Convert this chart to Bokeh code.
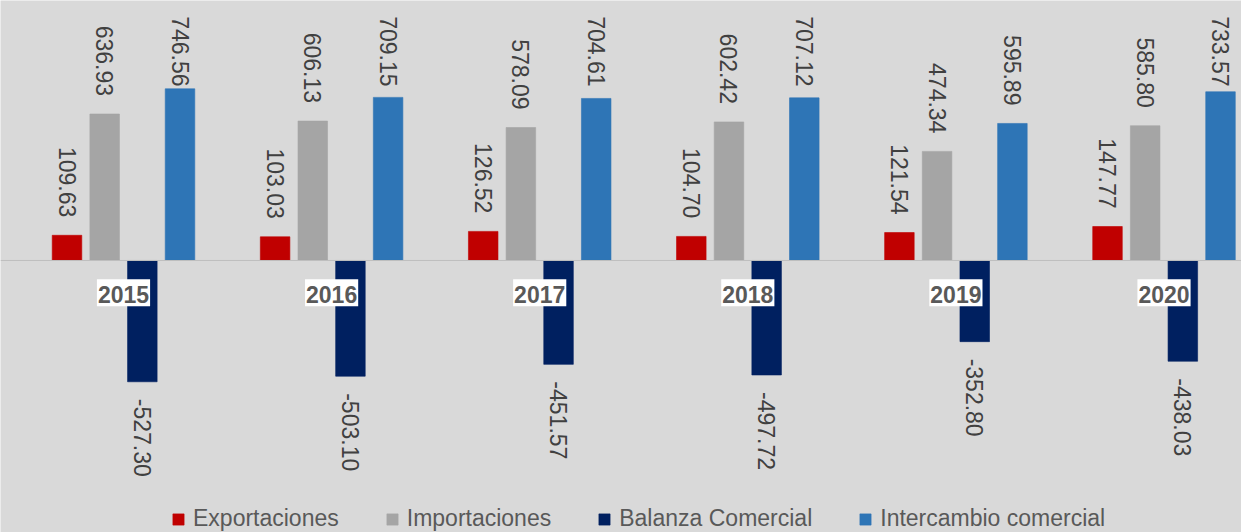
from bokeh.plotting import figure
from bokeh.models import ColumnDataSource, Range1d, Span, Legend, LegendItem
from bokeh.transform import dodge
from bokeh.core.properties import value
from bokeh.embed import file_html
from bokeh.resources import INLINE
import math

# ---- data ----
years = ["2015", "2016", "2017", "2018", "2019", "2020"]
exportaciones = [109.63, 103.03, 126.52, 104.70, 121.54, 147.77]
importaciones = [636.93, 606.13, 578.09, 602.42, 474.34, 585.80]
balanza = [-527.30, -503.10, -451.57, -497.72, -352.80, -438.03]
intercambio = [746.56, 709.15, 704.61, 707.12, 595.89, 733.57]
series_names = ["Exportaciones", "Importaciones", "Balanza Comercial", "Intercambio comercial"]

# ---- styles / layout ----
colors = ["#c00000", "#a5a5a5", "#002060", "#2e75b6"]
BG = "#d9d9d9"
TEXT = "#404040"
FONT = "Liberation Sans"
offsets = [-0.2715, -0.0905, 0.0905, 0.2715]
BAR_W = 0.142
YEAR_LABEL_Y = -140.0
LABEL_CAP = 678.0   # labels of tall bars are kept inside the chart area (as Excel does)

series = [exportaciones, importaciones, balanza, intercambio]
keys = ["exp", "imp", "bal", "int"]
data = dict(idx=list(range(len(years))), year=years)
for k, s in zip(keys, series):
    data[k] = s
    data[k + "_lbl"] = [f"{v:.2f}" for v in s]
    data[k + "_pos"] = [min(v, LABEL_CAP) if v >= 0 else float("nan") for v in s]
    data[k + "_neg"] = [v if v < 0 else float("nan") for v in s]
data["year_y"] = [YEAR_LABEL_Y] * len(years)
src = ColumnDataSource(data)

p = figure(width=1241, height=532,
           x_range=Range1d(-0.5911, 5.3724), y_range=Range1d(-1182.6, 1130.4),
           output_backend="svg", toolbar_location=None,
           x_axis_location=None, y_axis_location=None, min_border=0)
p.grid.visible = False
p.outline_line_color = None
p.background_fill_color = BG
p.border_fill_color = BG

p.add_layout(Span(location=0, dimension="width", line_color="#bfbfbf", line_width=1))

renderers = []
for k, c, off in zip(keys, colors, offsets):
    r = p.vbar(x=dodge("idx", off, range=p.x_range), top=k, bottom=0, width=BAR_W,
               source=src, fill_color=c, line_color=c, line_alpha=0.6)
    renderers.append(r)
    # positive labels: above bar end, reading top-to-bottom
    p.text(x=dodge("idx", off, range=p.x_range), y=k + "_pos", text=k + "_lbl", source=src,
           angle=-math.pi / 2, text_align="right", text_baseline="middle",
           x_offset=0, y_offset=-18,
           text_font=value(FONT), text_font_size="23px", text_color=TEXT)
    # negative labels: below bar end
    p.text(x=dodge("idx", off, range=p.x_range), y=k + "_neg", text=k + "_lbl", source=src,
           angle=-math.pi / 2, text_align="left", text_baseline="middle",
           x_offset=0, y_offset=17,
           text_font=value(FONT), text_font_size="23px", text_color=TEXT)

# category labels in white boxes
p.text(x="idx", y="year_y", text="year", source=src,
       text_align="center", text_baseline="middle",
       text_font=value(FONT), text_font_style="bold", text_font_size="23px",
       text_color="#595959", background_fill_color="white", padding=[1, 1, 7, 3])

legend = Legend(items=[LegendItem(label=n, renderers=[r]) for n, r in zip(series_names, renderers)],
                orientation="horizontal", location=(171, 0),
                glyph_width=14, glyph_height=14, label_standoff=8, spacing=46,
                padding=0, margin=0, border_line_color=None, background_fill_alpha=0,
                label_text_font=FONT, label_text_font_size="23px", label_text_color="#595959")
p.add_layout(legend)

html = file_html(p, INLINE)
html = html.replace("<body>", '<body style="margin:0;background-color:#d9d9d9;overflow:hidden;">', 1)
open("out.html", "w").write(html)
